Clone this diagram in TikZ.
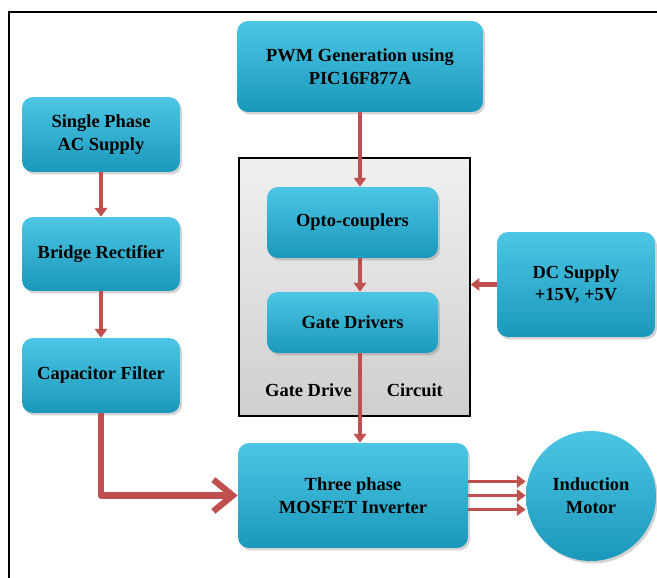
\documentclass[tikz,border=0pt]{standalone}
\usepackage{fontspec}
\setmainfont{Liberation Serif}
\usepackage{tikz}
\usetikzlibrary{arrows.meta}
\usetikzlibrary{shadows}
\definecolor{boxtop}{HTML}{4CC6E4}
\definecolor{boxbot}{HTML}{1A98BB}
\definecolor{arrred}{HTML}{C0504D}
\tikzset{%
  myblock/.style={rectangle, rounded corners=0.22cm, top color=boxtop, bottom color=boxbot,
    draw=none, drop shadow={opacity=0.35, shadow xshift=0.04cm, shadow yshift=-0.05cm},
    align=center, font=\fontsize{10.5}{13}\selectfont\bfseries, inner sep=2pt},
  myedge/.style={-{Triangle[length=5pt, width=7pt]}, draw=arrred, line width=2.8pt},
  mybig/.style={-{Straight Barb[length=11pt, width=18pt]}, draw=arrred, line width=3.6pt, line join=round},
  mygray/.style={rectangle, draw=black, line width=0.8pt, top color=gray!12, bottom color=gray!38}
}
\begin{document}
\begin{tikzpicture}[x=0.02cm, y=-0.02cm]
  \useasboundingbox (0,0) rectangle (657,578);
  \draw [line width=1.2pt] (9,580) -- (9,12) -- (657,12);
  % gate drive circuit box
  \node[mygray, minimum width=4.62cm, minimum height=5.16cm] (gdc) at (354.5,287) {};
  \node[font=\fontsize{10.5}{13}\selectfont\bfseries] (gdl) at (354,390) {Gate Drive\hspace{1.9em}Circuit};
  % left column
  \node[myblock, minimum width=3.16cm, minimum height=1.5cm] (ac) at (101,134.5) {Single Phase\\AC Supply};
  \node[myblock, minimum width=3.16cm, minimum height=1.48cm] (br) at (101,254) {Bridge Rectifier};
  \node[myblock, minimum width=3.16cm, minimum height=1.5cm] (cf) at (101,375.5) {Capacitor Filter};
  % middle column
  \node[myblock, minimum width=4.92cm, minimum height=1.82cm] (pwm) at (360,66.5) {PWM Generation using\\PIC16F877A};
  \node[myblock, minimum width=3.42cm, minimum height=1.42cm] (oc) at (352.5,222.5) {Opto-couplers};
  \node[myblock, minimum width=3.42cm, minimum height=1.22cm] (gd) at (352.5,322.5) {Gate Drivers};
  \node[myblock, minimum width=4.6cm, minimum height=2.1cm] (inv) at (353,495.5) {Three phase\\MOSFET Inverter};
  % right column
  \node[myblock, minimum width=3.16cm, minimum height=2.1cm] (dc) at (576,284.5) {DC Supply\\+15V, +5V};
  \node[myblock, circle, minimum size=2.6cm] (im) at (591,496) {Induction\\Motor};
  % connectors
  \draw [myedge] (ac) -- (br);
  \draw [myedge] (br) -- (cf);
  \draw [mybig] (cf.south) |- (inv.west);
  \draw [myedge] (pwm.south) -- (pwm.south |- oc.north);
  \draw [myedge] (oc.south -| pwm.south) -- (gd.north -| pwm.south);
  \draw [myedge] (gd.south -| pwm.south) -- (inv.north -| pwm.south);
  \draw [myedge, line width=3.2pt] (dc.west) -- (dc.west -| gdc.east);
  \foreach \d in {-14,0,14}
    \draw [myedge, line width=2.2pt] ([yshift=\d*0.02cm]inv.east) -- ([yshift=\d*0.02cm]inv.east -| im.west);
\end{tikzpicture}
\end{document}
